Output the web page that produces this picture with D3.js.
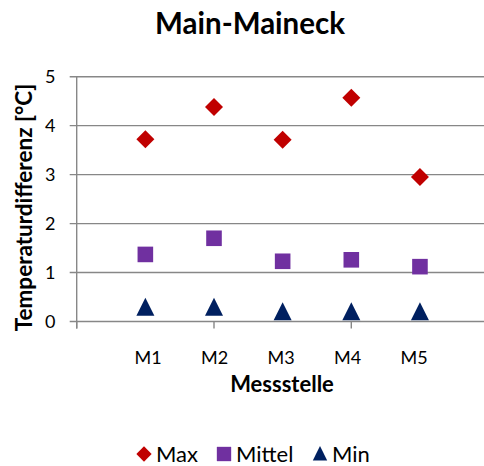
<!DOCTYPE html>
<html>
<head>
<meta charset="utf-8">
<script src="https://cdn.jsdelivr.net/npm/d3@7"></script>
<style>
  html, body { margin: 0; padding: 0; background: #fff; }
  svg { display: block; font-family: Lato, "Open Sans", sans-serif; }
</style>
</head>
<body>
<div id="chart"></div>
<script>
// Temperature differences per measuring station
const categories = ["M1", "M2", "M3", "M4", "M5"];
const positions = [1, 2, 3, 4, 5];
const maxValues = [3.72, 4.38, 3.71, 4.57, 2.95];
const meanValues = [1.37, 1.70, 1.23, 1.26, 1.12];
const minValues = [0.28, 0.28, 0.19, 0.19, 0.19];
const yTicks = [0, 1, 2, 3, 4, 5];
const xTicks = [0, 2, 4, 6];

const series = [
  { name: "Max", values: maxValues, color: "#C00000", shape: "diamond" },
  { name: "Mittel", values: meanValues, color: "#7030A0", shape: "square" },
  { name: "Min", values: minValues, color: "#002060", shape: "triangle" }
];

const W = 484, H = 466;
const svg = d3.select("#chart").append("svg").attr("width", W).attr("height", H);

const x = d3.scaleLinear().domain([0, 6]).range([76.7, 488.6]);
const y = d3.scaleLinear().domain([0, 5]).range([321.5, 76.7]);
const labelX = d3.scalePoint().domain(categories).range([148, 414]);

const grid = "#878787";

// horizontal gridlines, starting at the tick-mark end left of the axis
svg.append("g").selectAll("line").data(yTicks).join("line")
  .attr("x1", x(0) - 7).attr("x2", x(6))
  .attr("y1", d => y(d)).attr("y2", d => y(d))
  .attr("stroke", grid).attr("stroke-width", 1.4);

// y axis line
svg.append("line")
  .attr("x1", x(0)).attr("x2", x(0))
  .attr("y1", y(5)).attr("y2", y(0) + 7)
  .attr("stroke", grid).attr("stroke-width", 1.4);

// x axis tick marks
svg.append("g").selectAll("line").data(xTicks).join("line")
  .attr("x1", d => x(d)).attr("x2", d => x(d))
  .attr("y1", y(0)).attr("y2", y(0) + 7)
  .attr("stroke", grid).attr("stroke-width", 1.4);

// y tick labels
svg.append("g").selectAll("text").data(yTicks).join("text")
  .attr("x", 55.5).attr("y", d => y(d))
  .attr("dy", "0.35em")
  .attr("text-anchor", "end")
  .attr("font-size", 18)
  .attr("fill", "#000")
  .text(d => d);

// category labels
svg.append("g").selectAll("text").data(categories).join("text")
  .attr("x", d => labelX(d)).attr("y", 364)
  .attr("text-anchor", "middle")
  .attr("font-size", 18)
  .attr("fill", "#000")
  .text(d => d);

// titles
svg.append("text")
  .attr("x", 250).attr("y", 34)
  .attr("text-anchor", "middle")
  .attr("font-size", 29.5).attr("font-weight", "bold")
  .text("Main-Maineck");

svg.append("text")
  .attr("x", 282).attr("y", 391.5)
  .attr("text-anchor", "middle")
  .attr("font-size", 22).attr("font-weight", "bold")
  .text("Messstelle");

svg.append("text")
  .attr("transform", "translate(32,207.5) rotate(-90)")
  .attr("text-anchor", "middle")
  .attr("font-size", 22.5).attr("font-weight", "bold")
  .text("Temperaturdifferenz [°C]");

// marker shapes
function markerPath(shape) {
  if (shape === "diamond") return "M0,-9L9,0L0,9L-9,0Z";
  if (shape === "square") return "M-7.8,-7.8H7.8V7.8H-7.8Z";
  return "M0,-10L9,8L-9,8Z";
}

series.forEach(s => {
  svg.append("g").selectAll("path").data(s.values).join("path")
    .attr("transform", (d, i) => `translate(${x(positions[i])},${y(d)})`)
    .attr("d", markerPath(s.shape))
    .attr("fill", s.color);
});

// legend
const legendItems = [
  { s: series[0], mx: 144, tx: 156 },
  { s: series[1], mx: 224, tx: 236 },
  { s: series[2], mx: 320, tx: 332 }
];
const legendY = 454;
legendItems.forEach(it => {
  const sc = it.s.shape === "triangle" ? 0.8 : (it.s.shape === "diamond" ? 0.85 : 0.92);
  svg.append("path")
    .attr("transform", `translate(${it.mx},${legendY}) scale(${sc})`)
    .attr("d", markerPath(it.s.shape))
    .attr("fill", it.s.color);
  svg.append("text")
    .attr("x", it.tx).attr("y", legendY)
    .attr("dy", "0.36em")
    .attr("font-size", 22)
    .attr("fill", "#000")
    .text(it.s.name);
});
</script>
</body>
</html>
